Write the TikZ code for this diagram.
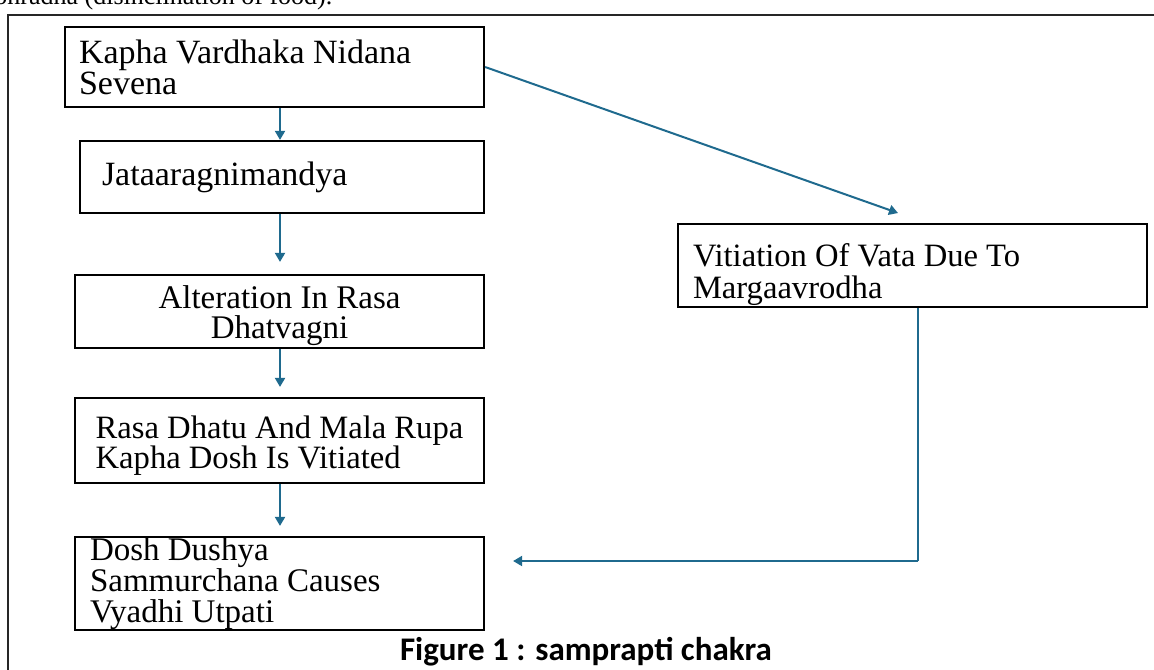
\documentclass[tikz,border=0pt]{standalone}
\usepackage{fontspec}
\setmainfont{Liberation Serif}
\newfontfamily\capfont{Carlito}
\usetikzlibrary{arrows.meta}
\definecolor{arrblue}{HTML}{1F6A8E}
\tikzset{
  box/.style={draw=black, line width=1.1pt, rectangle, align=flush left,
    font=\fontsize{16.5}{15}\selectfont, inner ysep=0pt},
  arr/.style={draw=arrblue, line width=1pt, -{Triangle[width=5pt,length=4.5pt]}},
  link/.style={draw=arrblue, line width=1pt}
}
\begin{document}
\begin{tikzpicture}[x=0.5pt,y=-0.5pt]
\useasboundingbox (0,0) rectangle (1154,669);
\clip (0,0) rectangle (1154,669);
% cut-off text at top
\node[anchor=base west, inner sep=0pt, font=\fontsize{13}{15}\selectfont] (top) at (-6,4) {ohradha (disinclination of food).};
% outer frame
\draw[line width=1.3pt, black!85] (8,680) -- (8,15) -- (1160,15);
% boxes
\node[box, text width=195.5pt, inner xsep=7pt, minimum height=40pt, font=\fontsize{17}{15.5}\selectfont] (k) at (274.5,67)
  {Kapha Vardhaka Nidana\\Sevena};
\node[box, text width=180pt, inner xsep=11pt, minimum height=36pt, font=\fontsize{17}{15}\selectfont] (j) at (282,177)
  {Jataaragnimandya};
\node[box, inner xsep=0pt, minimum width=204.5pt, minimum height=36.5pt, align=center] (a) at (279.5,311.5)
  {\rule{0pt}{16pt}Alteration In Rasa\\Dhatvagni};
\node[box, inner xsep=0pt, minimum width=204.5pt, minimum height=42.5pt, font=\fontsize{16.3}{15}\selectfont] (r) at (279.5,440.5)
  {\rule{0pt}{16pt}Rasa Dhatu And Mala Rupa\\Kapha Dosh Is Vitiated};
\node[box, text width=189.5pt, inner xsep=7.5pt, minimum height=46.5pt, font=\fontsize{16.5}{15.5}\selectfont] (d) at (279.5,583.5)
  {Dosh Dushya\\Sammurchana Causes\\Vyadhi Utpati};
\node[box, text width=219.5pt, inner xsep=7.5pt, minimum height=41.5pt, font=\fontsize{16.3}{16}\selectfont] (v) at (912.5,265.5)
  {\rule{0pt}{21pt}Vitiation Of Vata Due To\\Margaavrodha};
% caption
\node[anchor=base, font=\capfont\bfseries\fontsize{16.5}{18}\selectfont, inner sep=0pt] (cap) at (586,660) {Figure 1 : samprapti chakra};
% connectors
\coordinate (ax) at (280,0);
\coordinate (dg) at (898,213);
\coordinate (cn) at (918,561);
\draw[arr] (k.south -| ax) -- (j.north -| ax);
\draw[arr, shorten >=6pt] (j.south -| ax) -- (a.north -| ax);
\draw[arr, shorten >=5pt] (a.south -| ax) -- (r.north -| ax);
\draw[arr, shorten >=5pt] (r.south -| ax) -- (d.north -| ax);
\draw[arr] (k.east) -- (dg);
\draw[link] (v.south -| cn) -- (cn);
\draw[arr, shorten >=14pt] (cn) -- (d.east |- cn);
\end{tikzpicture}
\end{document}
